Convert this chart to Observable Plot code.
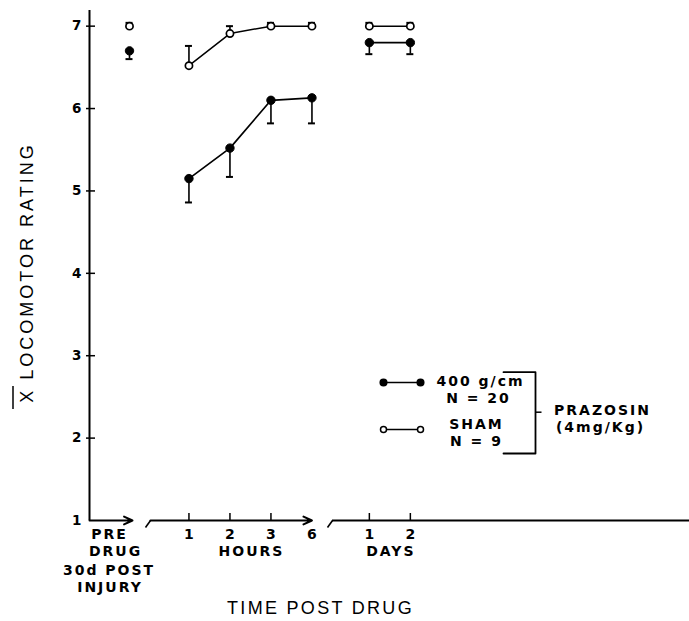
<!DOCTYPE html>
<html><head><meta charset="utf-8">
<script src="https://cdn.jsdelivr.net/npm/d3@7"></script>
<script src="https://cdn.jsdelivr.net/npm/@observablehq/plot@0.6"></script>
<style>
html,body{margin:0;padding:0;background:#fff;}
#chart svg{display:block;}
</style></head><body><div id="chart"></div>
<script>
// ---- data ----
const timeLabels   = ["PRE", "1", "2", "3", "6", "1", "2"];
const timeGroups   = ["pre", "hours", "hours", "hours", "hours", "days", "days"];
const injuredMean  = [6.70, 5.15, 5.52, 6.10, 6.13, 6.80, 6.80];   // 400 g/cm, N = 20
const injuredLow   = [6.60, 4.86, 5.17, 5.82, 5.82, 6.66, 6.66];   // lower error bar end
const shamMean     = [7.00, 6.52, 6.91, 7.00, 7.00, 7.00, 7.00];   // SHAM, N = 9
const shamHigh     = [7.04, 6.76, 7.00, 7.04, 7.04, 7.04, 7.04];   // upper error bar end
const yTicks       = [1, 2, 3, 4, 5, 6, 7];
const seriesNames  = ["400 g/cm", "SHAM"];
const seriesN      = ["N = 20", "N = 9"];
const drugLabel    = ["PRAZOSIN", "(4mg/Kg)"];
const groupTitles  = ["HOURS", "DAYS"];
const preLabel     = ["PRE", "DRUG", "30d POST", "INJURY"];
const xTitle = "TIME POST DRUG";
const yTitle = "X LOCOMOTOR RATING";

// ---- layout ----
const W = 689, H = 621, mL = 89, mR = 0, mT = 10, mB = 101;
const X0 = 129, XU = 41;              // pixel of PRE slot, pixels per slot
const YMAX = 7.19;
const groupStart = {pre: 0, hours: 1.45, days: 5.85};
const px2x = p => (p - X0) / XU;
const PY = (H - mB - mT) / (YMAX - 1);
const py2y = p => 1 + (H - mB - p) / PY;
const xMin = px2x(mL), xMax = px2x(W - mR);

const counters = {};
const rows = timeLabels.map((label, i) => {
  const g = timeGroups[i];
  counters[g] = (counters[g] ?? -1) + 1;
  return {label, group: g, slot: groupStart[g] + counters[g],
    inj: injuredMean[i], injLo: injuredLow[i], sham: shamMean[i], shamHi: shamHigh[i]};
});
const post = rows.filter(d => d.group !== "pre");
const lastHour = post.filter(d => d.group === "hours").at(-1);
const capW = 3.5 / XU;
const font = "Liberation Sans, Arial, Helvetica, sans-serif";
const bold = "DejaVu Sans, Verdana, sans-serif";

const groupCenters = ["hours", "days"].map((g, i) => {
  const s = rows.filter(d => d.group === g).map(d => d.slot);
  return {x: d3.mean([s[0], s.at(-1)]), text: groupTitles[i]};
});

// axis segments with breaks
const brk1 = [px2x(132), px2x(150)], brk2 = [lastHour.slot, px2x(332)];
const axisArrows = [
  {x1: xMin, x2: brk1[0]},
  {x1: brk1[1], x2: brk2[0]}
];
const tails = [brk1[1], brk2[1]].map(x => ({x1: x - 5 / XU, y1: py2y(H - mB + 7), x2: x, y2: 1}));

// legend geometry (pixels)
const legY = [382, 429];
const legend = [
  {series: 0, x1: px2x(383), x2: px2x(420), y: py2y(legY[0])},
  {series: 1, x1: px2x(383), x2: px2x(420), y: py2y(legY[1])}
];
const legendDots = legend.flatMap(d => [{series: d.series, x: d.x1, y: d.y}, {series: d.series, x: d.x2, y: d.y}]);
const legendText = [
  {x: px2x(479), y: py2y(381), text: seriesNames[0]},
  {x: px2x(477), y: py2y(398), text: seriesN[0]},
  {x: px2x(475), y: py2y(424), text: seriesNames[1]},
  {x: px2x(475), y: py2y(441), text: seriesN[1]},
  {x: px2x(601), y: py2y(410), text: drugLabel[0]},
  {x: px2x(599), y: py2y(427), text: drugLabel[1]}
];
const bracket = [[503, 371.7], [535, 371.7], [535, 453], [503, 453]].map(([x, y]) => ({x: px2x(x), y: py2y(y)}));

const preRows = preLabel.map((t, i) => ({text: t, x: px2x([108, 114, 107.5, 108.5][i]), y: py2y(H - mB + [14, 31, 50, 67][i])}));

const chart = Plot.plot({
  width: W, height: H,
  marginLeft: mL, marginRight: mR, marginTop: mT, marginBottom: mB,
  style: {fontFamily: font, background: "#fff", color: "#000"},
  x: {domain: [xMin, xMax], axis: null},
  y: {domain: [1, YMAX], axis: null},
  marks: [
    // y axis
    Plot.ruleX([xMin], {x: d => d, y1: 1, y2: YMAX, strokeWidth: 2}),
    Plot.ruleY(yTicks.filter(v => v > 1), {y: d => d, x1: px2x(86), x2: px2x(95), strokeWidth: 1.5}),
    Plot.text(yTicks, {x: xMin, y: d => d, text: d => String(d), dx: -8, textAnchor: "end", fontSize: 13.5, fontWeight: "bold", fontFamily: bold}),
    // x axis with breaks
    Plot.arrow(axisArrows, {x1: "x1", x2: "x2", y1: 1, y2: 1, headLength: 7, headAngle: 50, strokeWidth: 2}),
    Plot.ruleY([1], {x1: brk2[1], x2: xMax, strokeWidth: 2}),
    Plot.link(tails, {x1: "x1", y1: "y1", x2: "x2", y2: "y2", strokeWidth: 1.6}),
    Plot.ruleX(post.filter(d => d !== lastHour), {x: "slot", y1: 1, y2: py2y(H - mB - 7), strokeWidth: 1.5}),
    Plot.text(post, {x: "slot", y: 1, dy: 14.5, text: "label", fontSize: 14, fontWeight: "bold", fontFamily: bold}),
    Plot.text(groupCenters, {x: "x", y: 1, dy: 31.5, dx: 1, text: "text", fontSize: 14, fontWeight: "bold", fontFamily: bold}),
    Plot.text(preRows, {x: "x", y: "y", dx: 1, text: "text", fontSize: 14, fontWeight: "bold", fontFamily: bold}),
    // titles
    Plot.text([xTitle], {x: px2x(320), y: py2y(608), text: d => d, fontSize: 18}),
    Plot.text([yTitle], {x: px2x(27), y: py2y(272), text: d => d, fontSize: 18, rotate: -90}),
    Plot.ruleX([0], {x: px2x(12.5), y1: py2y(386), y2: py2y(409), strokeWidth: 1.5}),
    // series lines
    Plot.line(post, {x: "slot", y: "inj", z: "group", strokeWidth: 1.7}),
    Plot.line(post, {x: "slot", y: "sham", z: "group", strokeWidth: 1.5}),
    // error bars
    Plot.ruleX(rows, {x: "slot", y1: "inj", y2: "injLo", strokeWidth: 1.6}),
    Plot.ruleY(rows, {y: "injLo", x1: d => d.slot - capW, x2: d => d.slot + capW, strokeWidth: 2}),
    Plot.ruleX(rows, {x: "slot", y1: "sham", y2: "shamHi", strokeWidth: 1.6}),
    Plot.ruleY(rows, {y: "shamHi", x1: d => d.slot - capW, x2: d => d.slot + capW, strokeWidth: 2}),
    // dots
    Plot.dot(rows, {x: "slot", y: "inj", r: 4.2, fill: "#000", stroke: "#000", strokeWidth: 1}),
    Plot.dot(rows, {x: "slot", y: "sham", r: 3.6, fill: "#fff", stroke: "#000", strokeWidth: 1.7}),
    // legend
    Plot.link(legend, {x1: "x1", x2: "x2", y1: "y", y2: "y", strokeWidth: 1.7}),
    Plot.dot(legendDots, {x: "x", y: "y", r: d => d.series === 0 ? 3.9 : 3.2,
      fill: d => d.series === 0 ? "#000" : "#fff", stroke: "#000", strokeWidth: 1.5}),
    Plot.text(legendText, {x: "x", y: "y", dx: 1, text: "text", fontSize: 14, fontWeight: "bold", fontFamily: bold}),
    Plot.line(bracket, {x: "x", y: "y", strokeWidth: 1.8}),
    Plot.link([0], {x1: px2x(535), x2: px2x(541), y1: py2y(411.7), y2: py2y(411.7), strokeWidth: 1.5})
  ]
});
document.getElementById("chart").appendChild(chart);
d3.select(chart).selectAll("text").filter(function () { return this.textContent.length > 1; })
  .style("letter-spacing", "2px");
d3.select(chart).selectAll("text").filter(function () { return this.textContent === xTitle; })
  .style("letter-spacing", "2.3px");
d3.select(chart).selectAll("text").filter(function () { return this.textContent === yTitle; })
  .style("letter-spacing", "3px");
</script></body></html>
